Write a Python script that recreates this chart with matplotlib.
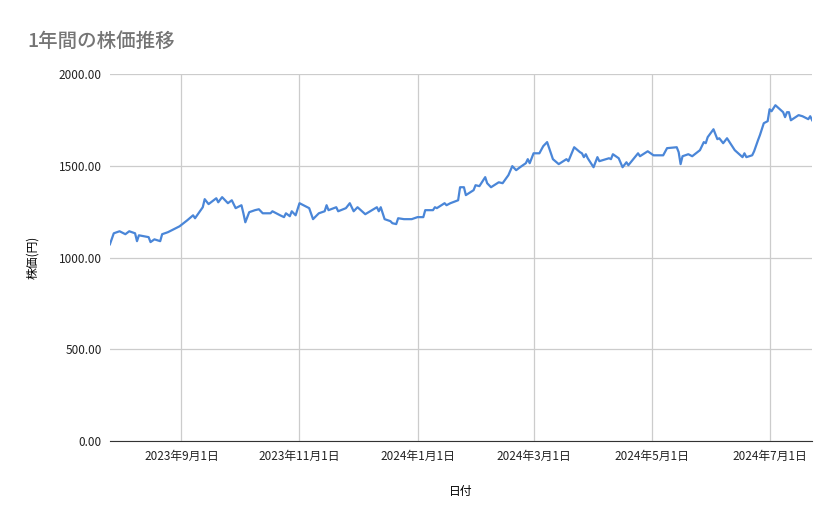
import matplotlib
matplotlib.use("Agg")
import matplotlib.pyplot as plt
import matplotlib.dates as mdates
import numpy as np
import datetime as dt

plt.rcParams['font.family'] = ['Noto Sans CJK JP', 'DejaVu Sans']

# day offsets from 2023-09-01 and prices (円)
day_offsets = [-37,-35,-32,-29,-27,-24,-23,-22,-17,-16,-14,-11,-10,-7,-4,-1,3,6,7,11,12,14,18,19,21,24,26,28,31,32,33,35,38,40,42,46,47,51,53,54,56,57,59,61,66,68,71,74,75,76,80,81,85,
    87,89,91,95,101,102,103,105,108,109,111,112,115,117,119,122,125,126,130,131,132,136,137,139,143,144,146,147,151,152,154,157,158,160,164,166,169,171,173,175,178,179,180,182,185,187,189,192,195,199,200,203,206,
    207,208,209,210,213,215,216,221,222,223,226,228,230,231,236,237,241,244,249,251,256,257,258,259,262,264,268,270,271,272,275,277,278,280,282,286,290,291,292,295,296,298,299,301,303,304,305,307,311,312,313,314,315,319,321,324,325,326]
prices = [1073,1133,1144,1128,1144,1133,1090,1122,1112,1085,1100,1090,1128,1139,1155,1171,1204,1231,1215,1275,1319,1292,1324,1302,1330,1297,1313,1270,1286,1242,1193,1248,1259,1264,1242,1242,1253,1231,1221,1242,1226,1253,1231,1297,1270,1210,1242,1253,1286,1259,1275,1253,1270,
    1297,1253,1275,1237,1275,1253,1275,1210,1199,1188,1183,1215,1210,1210,1210,1221,1221,1259,1259,1275,1270,1297,1286,1297,1313,1384,1384,1341,1368,1395,1390,1439,1406,1384,1411,1406,1450,1499,1477,1493,1515,1537,1515,1569,1569,1608,1630,1537,1510,1537,1526,1602,1575,
    1569,1548,1564,1542,1493,1548,1526,1542,1537,1564,1542,1493,1520,1504,1569,1553,1580,1558,1558,1597,1602,1575,1510,1553,1564,1553,1586,1630,1624,1657,1700,1646,1651,1624,1651,1586,1548,1569,1548,1558,1580,1640,1668,1733,1744,1809,1798,1831,1793,1766,1793,1793,1749,1777,1771,1755,1771,1749]
tick_dates = ["2023-09-01","2023-11-01","2024-01-01","2024-03-01","2024-05-01","2024-07-01"]
y_ticks = [0, 500, 1000, 1500, 2000]

base = dt.date(2023, 9, 1)
dates = [base + dt.timedelta(days=d) for d in day_offsets]

fig = plt.figure(figsize=(8.39, 5.19), dpi=100)
ax = fig.add_axes([0.131, 0.150, 0.837, 0.707])
ax.plot(dates, prices, color='#4a86d8', lw=1.6)
ax.set_xlim(dates[0], dates[-1])
ax.set_ylim(0, 2000)
ax.set_yticks(y_ticks)
ax.set_yticklabels([f"{v:.2f}" for v in y_ticks])
td = [dt.date.fromisoformat(s) for s in tick_dates]
ax.set_xticks(td)
ax.set_xticklabels([f"{d.year}年{d.month}月{d.day}日" for d in td])
ax.grid(True, color='#cccccc', lw=0.9)
ax.set_axisbelow(True)
for s in ['top', 'right', 'left']:
    ax.spines[s].set_visible(False)
ax.spines['bottom'].set_color('#333333')
ax.tick_params(length=0, labelsize=8.5, colors='#222222', pad=6)
ax.set_xlabel("日付", fontsize=8.5, labelpad=16)
ax.set_ylabel("株価(円)", fontsize=8.5, labelpad=14)
fig.text(0.033, 0.91, "1年間の株価推移", fontsize=14, color='#757575', fontweight='medium')
fig.savefig("out.png", dpi=100)
